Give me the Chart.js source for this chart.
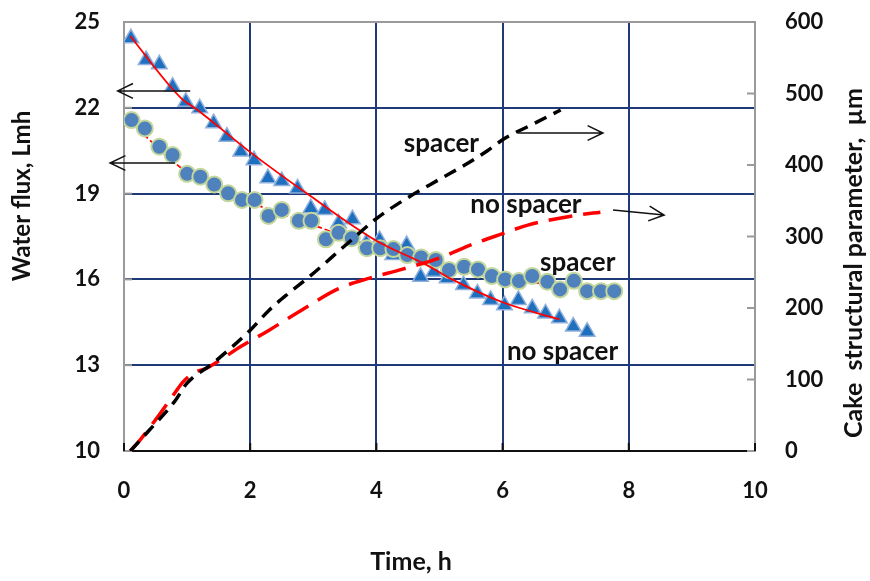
<!DOCTYPE html>
<html>
<head>
<meta charset="utf-8">
<script src="https://cdn.jsdelivr.net/npm/chart.js@4.4.0/dist/chart.umd.min.js"></script>
<style>
html, body { margin: 0; padding: 0; background: #fff; }
</style>
</head>
<body>
<canvas id="chart" width="870" height="581"></canvas>
<script>
// water flux, no spacer (triangles)
const timeNoSpacer = [0.11, 0.35, 0.56, 0.77, 0.98, 1.2, 1.42, 1.63, 1.85, 2.06, 2.28, 2.5, 2.75, 2.96, 3.18, 3.4, 3.62, 3.84, 4.05, 4.26, 4.48, 4.7, 4.91, 5.12, 5.38, 5.6, 5.81, 6.03, 6.25, 6.47, 6.68, 6.9, 7.12, 7.34];
const fluxNoSpacer = [24.43, 23.67, 23.52, 22.74, 22.21, 21.98, 21.46, 20.99, 20.47, 20.17, 19.54, 19.44, 19.18, 18.49, 18.43, 17.96, 18.1, 17.27, 17.38, 16.85, 17.2, 16.09, 16.27, 16.04, 15.8, 15.51, 15.28, 15.1, 15.28, 14.99, 14.81, 14.64, 14.35, 14.17];
// water flux, spacer (circles)
const timeSpacer = [0.12, 0.33, 0.56, 0.77, 1.0, 1.21, 1.43, 1.65, 1.87, 2.07, 2.29, 2.5, 2.77, 2.97, 3.2, 3.4, 3.61, 3.85, 4.06, 4.27, 4.49, 4.71, 4.94, 5.15, 5.39, 5.61, 5.83, 6.04, 6.26, 6.47, 6.71, 6.91, 7.13, 7.34, 7.56, 7.77];
const fluxSpacer = [21.57, 21.28, 20.64, 20.35, 19.69, 19.59, 19.32, 19.01, 18.78, 18.78, 18.22, 18.43, 18.05, 18.05, 17.4, 17.63, 17.44, 17.09, 17.09, 17.06, 16.85, 16.77, 16.68, 16.33, 16.44, 16.35, 16.12, 16.0, 15.94, 16.12, 15.92, 15.65, 15.95, 15.59, 15.59, 15.59];
// fitted flux curves
const fitTimeNoSpacer = [0.1, 0.9, 1.15, 2.0, 2.9, 4.0, 4.8, 5.2, 6.0, 6.9];
const fitFluxNoSpacer = [24.5, 22.35, 21.95, 20.45, 19.0, 17.35, 16.5, 16.0, 15.2, 14.6];
const fitTimeSpacer = [0.1, 1.0, 2.0, 3.0, 4.0, 5.0, 6.0, 7.0, 7.35];
const fitFluxSpacer = [21.5, 19.75, 18.7, 17.9, 17.1, 16.5, 16.0, 15.8, 15.7];
// cake structural parameter (right axis)
const cakeTimeSpacer = [0.1, 0.4, 0.8, 1.0, 1.4, 2.0, 2.3, 2.6, 2.9, 3.5, 4.0, 4.4, 5.0, 5.4, 5.76, 6.03, 6.5, 6.92];
const cakeSpacer = [0, 29, 69, 95, 122, 169, 197, 220, 241, 287, 325, 349, 380, 400, 420, 437, 458, 477];
const cakeTimeNoSpacer = [0.1, 0.25, 0.52, 0.78, 0.94, 1.1, 1.31, 1.52, 1.85, 2.3, 2.85, 3.4, 3.86, 4.4, 4.97, 5.55, 6.0, 6.4, 6.75, 7.2, 7.55];
const cakeNoSpacer = [0, 15, 46, 78, 97, 109, 116, 127, 146, 169, 199, 227, 241, 254, 269, 290, 304, 316, 323, 330, 334];

const xTicks = [0, 2, 4, 6, 8, 10];
const fluxTicks = [10, 13, 16, 19, 22, 25];
const cakeTicks = [0, 100, 200, 300, 400, 500, 600];

function pts(xs, ys) {
    return xs.map((x, i) => ({ x: x, y: ys[i] }));
}

const FONT = 'Lato, "DejaVu Sans", sans-serif';
const NAVY = '#1f3a78';
const INK = '#111';

// text labels and arrows, placed in data units
const notes = [
    { text: 'spacer', x: 5.03, y: 20.75 },
    { text: 'no spacer', x: 6.37, y: 18.6 },
    { text: 'spacer', x: 7.19, y: 16.6 },
    { text: 'no spacer', x: 6.95, y: 13.46 }
];
const arrows = [
    { x1: 1.05, y1: 22.59, x2: -0.1, y2: 22.59 },
    { x1: 0.81, y1: 20.07, x2: -0.22, y2: 20.07 },
    { x1: 6.24, y1: 21.12, x2: 7.59, y2: 21.12 },
    { x1: 7.75, y1: 18.43, x2: 8.56, y2: 18.25 }
];

function vText(ctx, text, x, y) {
    ctx.save();
    ctx.translate(x, y);
    ctx.rotate(-Math.PI / 2);
    ctx.fillText(text, 0, 0);
    ctx.restore();
}

const extras = {
    id: 'extras',
    beforeDatasetsDraw(chart) {
        const ctx = chart.ctx;
        const a = chart.chartArea;
        const sx = chart.scales.x, sy = chart.scales.y, sy2 = chart.scales.y2;
        ctx.save();
        ctx.lineWidth = 2;
        // inner tick marks
        ctx.strokeStyle = '#9a9a9a';
        fluxTicks.forEach(v => {
            const p = sy.getPixelForValue(v);
            ctx.beginPath(); ctx.moveTo(a.left, p); ctx.lineTo(a.left + 8, p); ctx.stroke();
        });
        cakeTicks.forEach(v => {
            const p = sy2.getPixelForValue(v);
            ctx.beginPath(); ctx.moveTo(a.right - 8, p); ctx.lineTo(a.right, p); ctx.stroke();
        });
        ctx.strokeStyle = INK;
        xTicks.forEach(v => {
            const p = sx.getPixelForValue(v);
            ctx.beginPath(); ctx.moveTo(p, a.bottom); ctx.lineTo(p, a.bottom - 8); ctx.stroke();
        });
        ctx.restore();
    },
    afterDatasetsDraw(chart) {
        const ctx = chart.ctx;
        const sx = chart.scales.x, sy = chart.scales.y;
        ctx.save();
        ctx.fillStyle = INK;
        ctx.font = 'bold 26px ' + FONT;
        ctx.textAlign = 'center';
        ctx.textBaseline = 'middle';
        notes.forEach(n => {
            ctx.fillText(n.text, sx.getPixelForValue(n.x), sy.getPixelForValue(n.y));
        });
        ctx.strokeStyle = INK;
        ctx.lineWidth = 1.5;
        arrows.forEach(r => {
            const x1 = sx.getPixelForValue(r.x1), y1 = sy.getPixelForValue(r.y1);
            const x2 = sx.getPixelForValue(r.x2), y2 = sy.getPixelForValue(r.y2);
            const ang = Math.atan2(y2 - y1, x2 - x1);
            ctx.beginPath();
            ctx.moveTo(x1, y1); ctx.lineTo(x2, y2);
            ctx.moveTo(x2 - 17 * Math.cos(ang - 0.45), y2 - 17 * Math.sin(ang - 0.45));
            ctx.lineTo(x2, y2);
            ctx.lineTo(x2 - 17 * Math.cos(ang + 0.45), y2 - 17 * Math.sin(ang + 0.45));
            ctx.stroke();
        });
        // axis titles, both read bottom to top
        ctx.textBaseline = 'alphabetic';
        ctx.font = 'bold 24px ' + FONT;
        vText(ctx, 'Water flux, Lmh', 30, 196);
        ctx.font = 'bold 25px ' + FONT;
        vText(ctx, 'Cake  structural parameter,  µm', 862, 263);
        ctx.fillText('Time, h', 411, 570);
        ctx.restore();
    }
};

const tickFont = { family: FONT, weight: 'bold', size: 22 };

function noOverflowV(s, w) {
    s.width = w;
    s.paddingTop = 0;
    s.paddingBottom = 0;
}

new Chart(document.getElementById('chart'), {
    type: 'scatter',
    data: {
        datasets: [
            {
                label: 'cake spacer',
                type: 'line',
                yAxisID: 'y2',
                data: pts(cakeTimeSpacer, cakeSpacer),
                borderColor: '#000',
                borderWidth: 3.5,
                borderDash: [13, 8],
                pointRadius: 0,
                cubicInterpolationMode: 'monotone',
                order: 0
            },
            {
                label: 'cake no spacer',
                type: 'line',
                yAxisID: 'y2',
                data: pts(cakeTimeNoSpacer, cakeNoSpacer),
                borderColor: '#ff0000',
                borderWidth: 3.5,
                borderDash: [24, 11],
                pointRadius: 0,
                cubicInterpolationMode: 'monotone',
                order: 1
            },
            {
                label: 'fit no spacer',
                type: 'line',
                data: pts(fitTimeNoSpacer, fitFluxNoSpacer),
                borderColor: '#ff0000',
                borderWidth: 1.8,
                pointRadius: 0,
                cubicInterpolationMode: 'monotone',
                order: 2
            },
            {
                label: 'spacer',
                data: pts(timeSpacer, fluxSpacer),
                pointStyle: 'circle',
                pointRadius: 8,
                backgroundColor: '#4f81bd',
                borderColor: '#c3d69b',
                borderWidth: 2,
                order: 3
            },
            {
                label: 'fit spacer',
                type: 'line',
                data: pts(fitTimeSpacer, fitFluxSpacer),
                borderColor: '#ff0000',
                borderWidth: 1.8,
                borderDash: [6, 3],
                pointRadius: 0,
                cubicInterpolationMode: 'monotone',
                order: 4
            },
            {
                label: 'no spacer',
                data: pts(timeNoSpacer, fluxNoSpacer),
                pointStyle: 'triangle',
                pointRadius: 9,
                backgroundColor: '#1f6fbf',
                borderColor: '#8fb0dc',
                borderWidth: 1.5,
                order: 5
            }
        ]
    },
    options: {
        responsive: false,
        animation: false,
        layout: { padding: { top: 22, left: 0, right: 0, bottom: 0 } },
        plugins: { legend: { display: false }, tooltip: { enabled: false } },
        scales: {
            x: {
                type: 'linear',
                min: 0, max: 10,
                afterBuildTicks: s => { s.ticks = xTicks.map(v => ({ value: v })); },
                afterFit: s => { s.height = 130; s.paddingLeft = 0; s.paddingRight = 0; },
                grid: {
                    color: c => (c.tick.value === 0 ? 'rgba(0,0,0,0)' : (c.tick.value === 10 ? '#9a9a9a' : NAVY)),
                    lineWidth: 2,
                    drawTicks: false
                },
                border: { color: INK, width: 2 },
                ticks: { padding: 27, color: INK, font: tickFont }
            },
            y: {
                position: 'left',
                min: 10, max: 25,
                afterBuildTicks: s => { s.ticks = fluxTicks.map(v => ({ value: v })); },
                afterFit: s => noOverflowV(s, 124),
                grid: {
                    color: c => (c.tick.value === 10 ? 'rgba(0,0,0,0)' : (c.tick.value === 25 ? '#9a9a9a' : NAVY)),
                    lineWidth: 2,
                    drawTicks: false
                },
                border: { color: '#9a9a9a', width: 2 },
                ticks: { padding: 24, color: INK, font: tickFont }
            },
            y2: {
                position: 'right',
                min: 0, max: 600,
                afterBuildTicks: s => { s.ticks = cakeTicks.map(v => ({ value: v })); },
                afterFit: s => noOverflowV(s, 115),
                grid: { drawOnChartArea: false, drawTicks: false },
                border: { color: '#9a9a9a', width: 2 },
                ticks: { padding: 30, color: INK, font: tickFont }
            }
        }
    },
    plugins: [extras]
});
</script>
</body>
</html>
